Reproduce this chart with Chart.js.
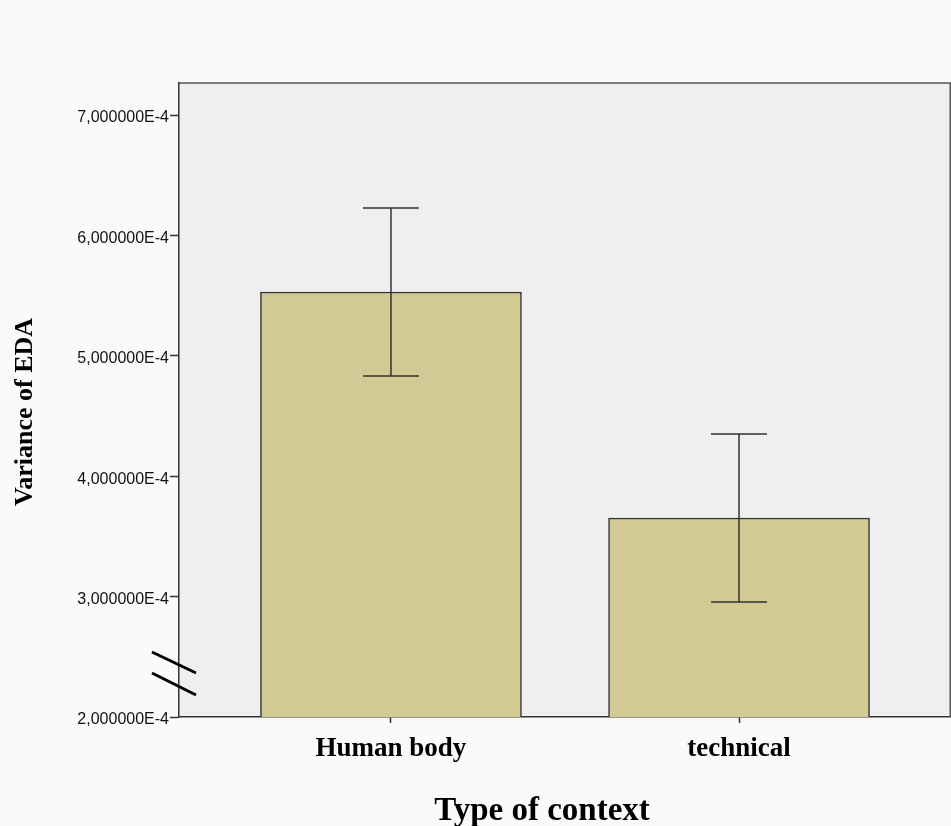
<!DOCTYPE html>
<html>
<head>
<meta charset="utf-8">
<script src="https://cdn.jsdelivr.net/npm/chart.js@4.4.1/dist/chart.umd.min.js"></script>
<style>
  html, body { margin: 0; padding: 0; background: #fafafa; }
  #wrap { width: 951px; height: 826px; position: relative; }
</style>
</head>
<body>
<div id="wrap"><canvas id="chart1"></canvas></div>
<script>
// Values (units: EDA variance)
const categories = ['Human body', 'technical'];
const means = [5.53e-4, 3.653e-4];
const errorHigh = [6.228e-4, 4.35e-4];
const errorLow = [4.832e-4, 2.955e-4];
const yTickValues = [2e-4, 3e-4, 4e-4, 5e-4, 6e-4, 7e-4];

const serif = '"Liberation Serif", "Times New Roman", serif';
const sans = '"Liberation Sans", Arial, Helvetica, sans-serif';

function formatTick(v) {
    return (v / 1e-4).toFixed(6).replace('.', ',') + 'E-4';
}

// Plot background, frame, error bars, axis break and axis titles
const decorations = {
    id: 'decorations',
    beforeDraw(chart) {
        const { ctx, chartArea: a } = chart;
        ctx.save();
        ctx.fillStyle = '#efefef';
        ctx.fillRect(a.left, a.top, a.right - a.left, a.bottom - a.top);
        ctx.restore();
    },
    afterDatasetsDraw(chart) {
        const { ctx, chartArea: a, scales: { x, y } } = chart;
        ctx.save();
        // top and right frame
        ctx.strokeStyle = '#555';
        ctx.lineWidth = 1.5;
        ctx.beginPath();
        ctx.moveTo(a.left, a.top);
        ctx.lineTo(a.right - 0.75, a.top);
        ctx.lineTo(a.right - 0.75, a.bottom);
        ctx.stroke();

        // error bars
        ctx.strokeStyle = '#333';
        ctx.lineWidth = 1.5;
        categories.forEach((c, i) => {
            const px = x.getPixelForValue(i);
            const hi = y.getPixelForValue(errorHigh[i]);
            const lo = y.getPixelForValue(errorLow[i]);
            ctx.beginPath();
            ctx.moveTo(px, hi);
            ctx.lineTo(px, lo);
            ctx.moveTo(px - 28, hi);
            ctx.lineTo(px + 28, hi);
            ctx.moveTo(px - 28, lo);
            ctx.lineTo(px + 28, lo);
            ctx.stroke();
        });

        // axis break marks
        const base = y.getPixelForValue(yTickValues[0]);
        ctx.strokeStyle = '#000';
        ctx.lineWidth = 3;
        ctx.beginPath();
        ctx.moveTo(a.left - 27, base - 65);
        ctx.lineTo(a.left + 17, base - 44);
        ctx.moveTo(a.left - 27, base - 44);
        ctx.lineTo(a.left + 17, base - 22);
        ctx.stroke();

        // axis titles
        ctx.fillStyle = '#000';
        ctx.font = 'bold 33px ' + serif;
        ctx.textAlign = 'center';
        ctx.textBaseline = 'alphabetic';
        ctx.fillText('Type of context', 542, 820);

        ctx.translate(32, 412);
        ctx.rotate(-Math.PI / 2);
        ctx.font = 'bold 26px ' + serif;
        ctx.fillText('Variance of EDA', 0, 0);
        ctx.restore();
    }
};

function initializeChart() {
    const ctx = document.getElementById('chart1').getContext('2d');
    new Chart(ctx, {
        type: 'bar',
        data: {
            datasets: [{
                data: categories.map((c, i) => ({ x: i, y: means[i] })),
                backgroundColor: '#d2c994',
                borderColor: '#333',
                borderWidth: 1.5,
                barThickness: 261
            }]
        },
        options: {
            responsive: true,
            maintainAspectRatio: false,
            animation: false,
            layout: { padding: { top: 83, left: 0, right: 0, bottom: 0 } },
            plugins: {
                legend: { display: false },
                tooltip: { enabled: false }
            },
            scales: {
                x: {
                    type: 'linear',
                    min: -0.609,
                    max: 1.609,
                    offset: false,
                    afterFit(scale) { scale.height = 109; },
                    afterBuildTicks(scale) {
                        scale.ticks = categories.map((c, i) => ({ value: i }));
                    },
                    grid: {
                        offset: false,
                        drawOnChartArea: false,
                        drawTicks: true,
                        tickLength: 6,
                        tickWidth: 1.5,
                        tickColor: '#333'
                    },
                    border: { display: true, color: '#333', width: 1.5 },
                    ticks: {
                        padding: 10,
                        color: '#000',
                        font: { family: serif, size: 27, weight: 'bold' },
                        maxRotation: 0,
                        callback: (v) => categories[v]
                    }
                },
                y: {
                    min: yTickValues[0],
                    max: 7.266e-4,
                    afterFit(scale) { scale.width = 179; },
                    afterBuildTicks(scale) {
                        scale.ticks = yTickValues.map(v => ({ value: v }));
                    },
                    grid: {
                        drawOnChartArea: false,
                        drawTicks: true,
                        tickLength: 9,
                        tickWidth: 1.5,
                        tickColor: '#333'
                    },
                    border: { display: true, color: '#333', width: 1.5 },
                    ticks: {
                        padding: 1,
                        labelOffset: 3,
                        color: '#111',
                        font: { family: sans, size: 16 },
                        callback: formatTick
                    }
                }
            }
        },
        plugins: [decorations]
    });
}

window.onload = initializeChart;
</script>
</body>
</html>
